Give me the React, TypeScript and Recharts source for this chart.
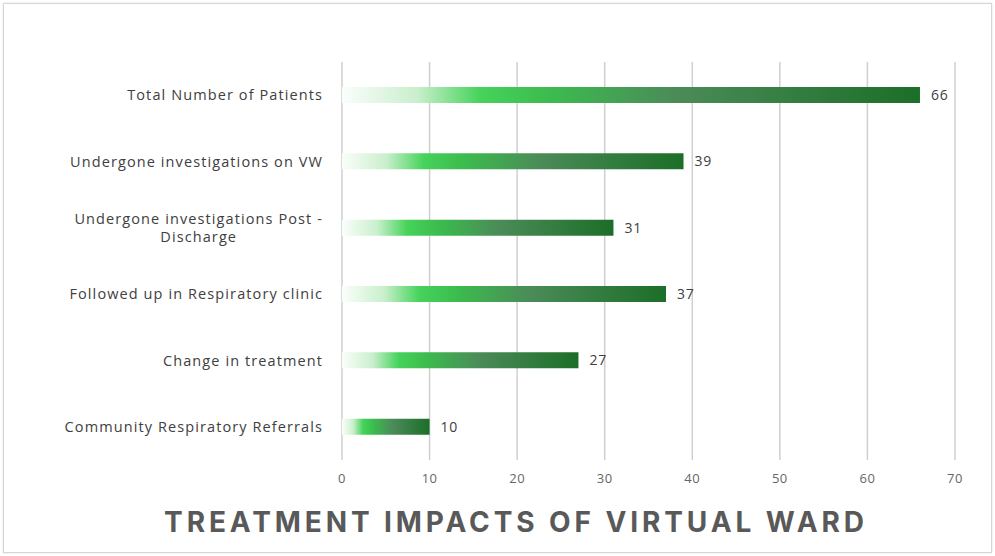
import React from 'react';
import { BarChart, Bar, XAxis, YAxis, CartesianGrid, LabelList } from 'recharts';

const categories = [
  'Total Number of Patients',
  'Undergone investigations on VW',
  'Undergone investigations Post - Discharge',
  'Followed up in Respiratory clinic',
  'Change in treatment',
  'Community Respiratory Referrals',
];
const patientCounts = [66, 39, 31, 37, 27, 10];
const xTicks = [0, 10, 20, 30, 40, 50, 60, 70];
const chartTitle = 'TREATMENT IMPACTS OF VIRTUAL WARD';

const data = categories.map((name, i) => ({ name, value: patientCounts[i] }));

const FONT = '"Open Sans", sans-serif';
const TITLE_FONT = 'Inter, "Open Sans", sans-serif';
const LABEL_SIZE = 14.5;
const LABEL_LS = 1.1;

function measure(text: string): number {
  const fallback = text.length * 8.4;
  if (typeof document === 'undefined') return fallback;
  const c = document.createElement('canvas');
  const ctx = c.getContext('2d');
  if (!ctx) return fallback;
  ctx.font = `${LABEL_SIZE}px ${FONT}`;
  return ctx.measureText(text).width + text.length * LABEL_LS;
}

function wrap(text: string, maxWidth: number): string[] {
  const words = text.split(' ');
  const lines: string[] = [];
  let cur = '';
  for (const w of words) {
    const t = cur ? cur + ' ' + w : w;
    if (measure(t) > maxWidth && cur) {
      lines.push(cur);
      cur = w;
    } else cur = t;
  }
  if (cur) lines.push(cur);
  return lines;
}

const CategoryTick = (props: any) => {
  const { x, y, payload } = props;
  const lines = wrap(String(payload.value), 290);
  const common = {
    fill: '#404040',
    fontSize: LABEL_SIZE,
    fontFamily: FONT,
    letterSpacing: LABEL_LS,
  };
  if (lines.length === 1) {
    return (
      <text x={x} y={y} dy={5} textAnchor="end" {...common}>
        {lines[0]}
      </text>
    );
  }
  const w = Math.max(...lines.map(measure));
  const cx = x - w / 2;
  const lh = 18;
  const start = y - ((lines.length - 1) * lh) / 2 + 5;
  return (
    <text x={cx} y={start} textAnchor="middle" {...common}>
      {lines.map((l, i) => (
        <tspan key={i} x={cx} dy={i === 0 ? 0 : lh}>
          {l}
        </tspan>
      ))}
    </text>
  );
};

export default function App() {
  return (
    <div style={{ position: 'absolute', left: 0, top: 0, width: 995, height: 556, background: '#fff' }}>
      <div
        style={{
          position: 'absolute',
          left: 3,
          top: 3,
          width: 987,
          height: 548,
          border: '1px solid #d6d6d6',
          boxShadow: '0 0 2px #e0e0e0',
        }}
      />
      <BarChart
        width={995}
        height={556}
        data={data}
        layout="vertical"
        margin={{ top: 62, right: 40, bottom: 66, left: 0 }}
        barSize={16}
      >
        <defs>
          <linearGradient id="barGrad" x1="0" y1="0" x2="1" y2="0">
            <stop offset="0" stopColor="#fbfefb" />
            <stop offset="0.13" stopColor="#c9efcc" />
            <stop offset="0.24" stopColor="#45d35a" />
            <stop offset="0.36" stopColor="#3cbb4e" />
            <stop offset="0.58" stopColor="#4b8b58" />
            <stop offset="1" stopColor="#1c6e28" />
          </linearGradient>
        </defs>
        <CartesianGrid horizontal={false} stroke="#cfcfcf" strokeWidth={1.5} />
        <XAxis
          type="number"
          domain={[0, 70]}
          ticks={xTicks}
          axisLine={false}
          tickLine={false}
          tick={{ fill: '#666', fontSize: 13, fontFamily: FONT, letterSpacing: 0.5 }}
          tickMargin={8}
          height={30}
        />
        <YAxis
          type="category"
          dataKey="name"
          width={342}
          axisLine={false}
          tickLine={false}
          tickMargin={13}
          tick={<CategoryTick />}
        />
        <Bar dataKey="value" fill="url(#barGrad)" isAnimationActive={false}>
          <LabelList
            dataKey="value"
            position="right"
            offset={11}
            fill="#404040"
            fontSize={14}
            fontFamily={FONT}
            letterSpacing={0.8}
          />
        </Bar>
      </BarChart>
      <div
        style={{
          position: 'absolute',
          left: 0,
          top: 505,
          width: 1032,
          textAlign: 'center',
          fontFamily: TITLE_FONT,
          fontWeight: 700,
          fontSize: 28,
          letterSpacing: 3.9,
          color: '#595959',
          lineHeight: '34px',
        }}
      >
        {chartTitle}
      </div>
    </div>
  );
}
